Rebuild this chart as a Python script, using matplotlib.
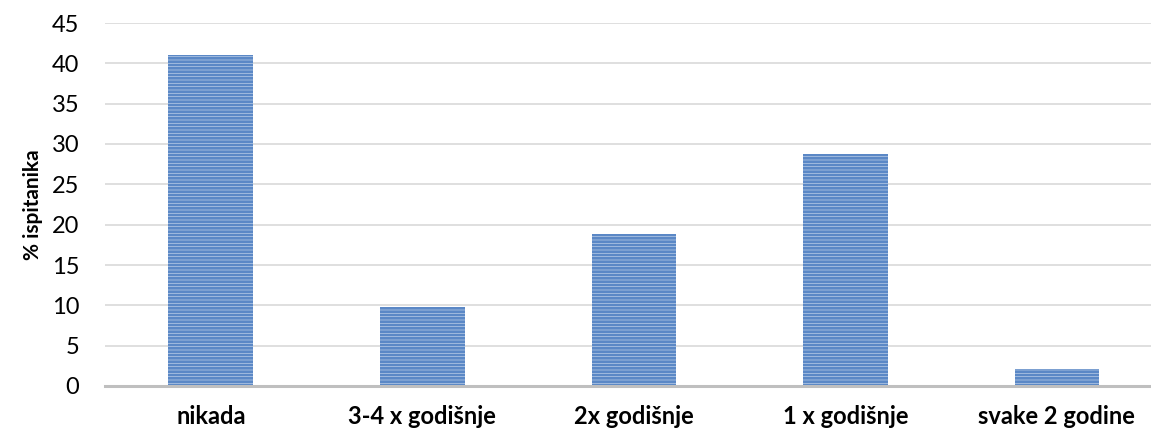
import matplotlib
matplotlib.use("Agg")
import matplotlib.pyplot as plt

categories = ["nikada", "3-4 x godišnje", "2x godišnje", "1 x godišnje", "svake 2 godine"]
values = [41.0, 9.8, 18.8, 28.8, 2.1]
yticks = [0, 5, 10, 15, 20, 25, 30, 35, 40, 45]

plt.rcParams['font.family'] = ['Lato', 'DejaVu Sans']
plt.rcParams['hatch.linewidth'] = 2.0

W, H = 1151, 432
fig = plt.figure(figsize=(W/100, H/100), dpi=100)
left = 105 / W
bottom = (H - 386) / H
height = (386 - 23) / H
ax = fig.add_axes([left, bottom, 1 - left, height])

x = list(range(len(categories)))
ax.bar(x, values, width=0.4, color='#d3e0f1', edgecolor='#5b88c6',
       hatch='-----', linewidth=0, zorder=3)

ax.set_xlim(-0.5, 4.445)
ax.set_ylim(0, 45)
ax.set_yticks(yticks)
ax.set_yticklabels([str(t) for t in yticks], fontsize=17, color='#000000')
ax.set_xticks(x)
ax.set_xticklabels(categories, fontsize=17, fontweight='bold')
ax.tick_params(axis='both', length=0)
ax.tick_params(axis='y', pad=18.5)
ax.tick_params(axis='x', pad=14)
ax.grid(axis='y', color='#d9d9d9', linewidth=1.2, zorder=0)
for s in ['top', 'right', 'left']:
    ax.spines[s].set_visible(False)
ax.spines['bottom'].set_color('#bfbfbf')
ax.spines['bottom'].set_linewidth(2.2)
ax.spines['bottom'].set_zorder(4)
ax.set_ylabel('% ispitanika', fontsize=15, fontweight='bold', labelpad=6)

fig.savefig('out.png', dpi=100)
